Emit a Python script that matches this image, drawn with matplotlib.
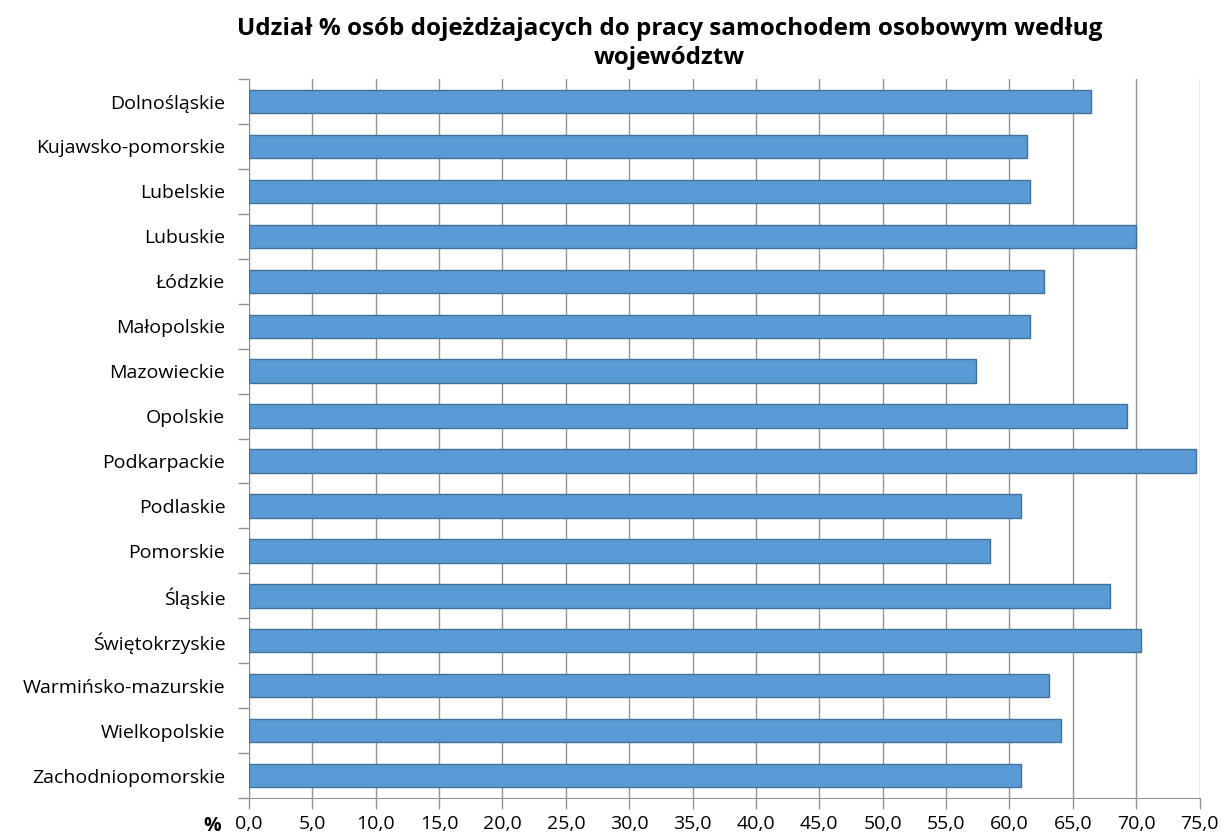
import numpy as np
import matplotlib.pyplot as plt
from matplotlib.ticker import FuncFormatter, MultipleLocator

plt.rcParams['font.family'] = ['Open Sans', 'DejaVu Sans']

regions = ['Dolnośląskie', 'Kujawsko-pomorskie', 'Lubelskie', 'Lubuskie', 'Łódzkie',
           'Małopolskie', 'Mazowieckie', 'Opolskie', 'Podkarpackie', 'Podlaskie',
           'Pomorskie', 'Śląskie', 'Świętokrzyskie', 'Warmińsko-mazurskie',
           'Wielkopolskie', 'Zachodniopomorskie']
share = [66.4, 61.4, 61.6, 70.0, 62.7, 61.6, 57.4, 69.3, 74.7, 60.9,
         58.5, 67.9, 70.4, 63.1, 64.1, 60.9]

grid_col = '#949494'

fig = plt.figure(figsize=(12.24, 8.39), dpi=100)
ax = fig.add_axes([0.2034, 0.0488, 0.7766, 0.8570])

y = np.arange(len(regions))
ax.barh(y, share, height=0.52, color='#5B9BD5', edgecolor='#41719C', linewidth=1.0, zorder=3)

ax.set_xlim(0, 75)
ax.set_ylim(len(regions) - 0.5, -0.5)

ax.xaxis.set_major_locator(MultipleLocator(5))
ax.xaxis.set_major_formatter(FuncFormatter(lambda v, p: f'{v:.1f}'.replace('.', ',')))
ax.grid(axis='x', color=grid_col, linewidth=1.0, zorder=0)

ax.set_yticks(y)
ax.set_yticklabels(regions)
ax.set_yticks(np.arange(-0.5, len(regions)), minor=True)
ax.tick_params(axis='y', which='major', length=0, pad=17, labelsize=14)
ax.tick_params(axis='y', which='minor', length=8, color=grid_col, width=1)
ax.tick_params(axis='x', which='major', length=8, color=grid_col, width=1, labelsize=14, pad=4)

for s in ['top', 'right']:
    ax.spines[s].set_visible(False)
for s in ['left', 'bottom']:
    ax.spines[s].set_color(grid_col)

fig.text(0.547, 0.948, 'Udział % osób dojeżdżajacych do pracy samochodem osobowym według\nwojewództw',
         ha='center', va='center', fontsize=17.5, fontweight='bold', linespacing=1.25)
fig.text(0.173, 0.016, '%', ha='center', va='center', fontsize=14, fontweight='bold')

fig.savefig('out.png', dpi=100)
